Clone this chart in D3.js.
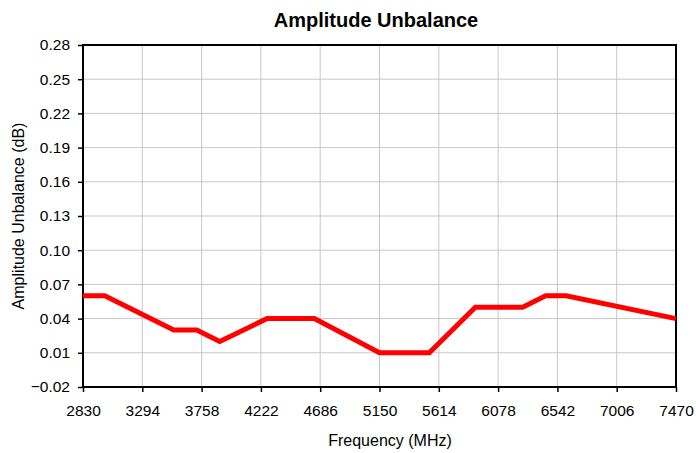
<!DOCTYPE html>
<html>
<head>
<meta charset="utf-8">
<script src="https://cdn.jsdelivr.net/npm/d3@7"></script>
<style>
  body { margin: 0; background: #fff; }
  svg { display: block; font-family: "Liberation Sans", Arial, sans-serif; }
</style>
</head>
<body>
<svg id="chart" width="696" height="453"></svg>
<script>
// data
const freqs = [2830, 3000, 3540, 3720, 3900, 4270, 4640, 5150, 5540, 5900, 6270, 6450, 6610, 7470];
const unbalance = [0.06, 0.06, 0.03, 0.03, 0.02, 0.04, 0.04, 0.01, 0.01, 0.05, 0.05, 0.06, 0.06, 0.04];
const xTicks = [2830, 3294, 3758, 4222, 4686, 5150, 5614, 6078, 6542, 7006, 7470];
const yTicks = [-0.02, 0.01, 0.04, 0.07, 0.10, 0.13, 0.16, 0.19, 0.22, 0.25, 0.28];

const svg = d3.select('#chart');
const plotL = 83, plotR = 676, plotT = 45, plotB = 387;

const x = d3.scaleLinear().domain([2830, 7470]).range([plotL, plotR]);
const y = d3.scaleLinear().domain([-0.02, 0.28]).range([plotB, plotT]);

// gridlines
svg.append('g').selectAll('line')
  .data(xTicks.slice(1, -1))
  .enter().append('line')
  .attr('x1', d => x(d)).attr('x2', d => x(d))
  .attr('y1', plotT).attr('y2', plotB)
  .attr('stroke', '#c8c8c8').attr('stroke-width', 1);

svg.append('g').selectAll('line')
  .data(yTicks.slice(1, -1))
  .enter().append('line')
  .attr('x1', plotL).attr('x2', plotR)
  .attr('y1', d => y(d)).attr('y2', d => y(d))
  .attr('stroke', '#c8c8c8').attr('stroke-width', 1);

// axes
const xAxis = d3.axisBottom(x).tickValues(xTicks).tickSize(5).tickPadding(13).tickFormat(d3.format('d'));
const yAxis = d3.axisLeft(y).tickValues(yTicks).tickSize(5).tickPadding(8).tickFormat(d3.format('.2f'));

const gx = svg.append('g').attr('transform', `translate(0,${plotB})`).call(xAxis);
const gy = svg.append('g').attr('transform', `translate(${plotL},0)`).call(yAxis);
[gx, gy].forEach(g => {
  g.select('.domain').remove();
  g.selectAll('.tick line').attr('stroke', '#000').attr('stroke-width', 1.5);
  g.selectAll('.tick text').attr('fill', '#000').style('font-size', '15.5px')
    .style('font-family', '"Liberation Sans", Arial, sans-serif');
});

// plot border
svg.append('rect')
  .attr('x', plotL).attr('y', plotT)
  .attr('width', plotR - plotL).attr('height', plotB - plotT)
  .attr('fill', 'none').attr('stroke', '#000').attr('stroke-width', 2);

// data line
const line = d3.line().x((d, i) => x(freqs[i])).y(d => y(d));
svg.append('path')
  .datum(unbalance)
  .attr('d', line)
  .attr('fill', 'none')
  .attr('stroke', '#ff0000')
  .attr('stroke-width', 5)
  .attr('stroke-linejoin', 'miter');

// titles
svg.append('text')
  .attr('x', 376).attr('y', 27)
  .attr('text-anchor', 'middle')
  .style('font-size', '20px').style('font-weight', 'bold')
  .text('Amplitude Unbalance');

svg.append('text')
  .attr('x', 390).attr('y', 446)
  .attr('text-anchor', 'middle')
  .style('font-size', '16px')
  .text('Frequency (MHz)');

svg.append('text')
  .attr('transform', `translate(24,${(plotT + plotB) / 2}) rotate(-90)`)
  .attr('text-anchor', 'middle')
  .style('font-size', '16px')
  .text('Amplitude Unbalance (dB)');
</script>
</body>
</html>
